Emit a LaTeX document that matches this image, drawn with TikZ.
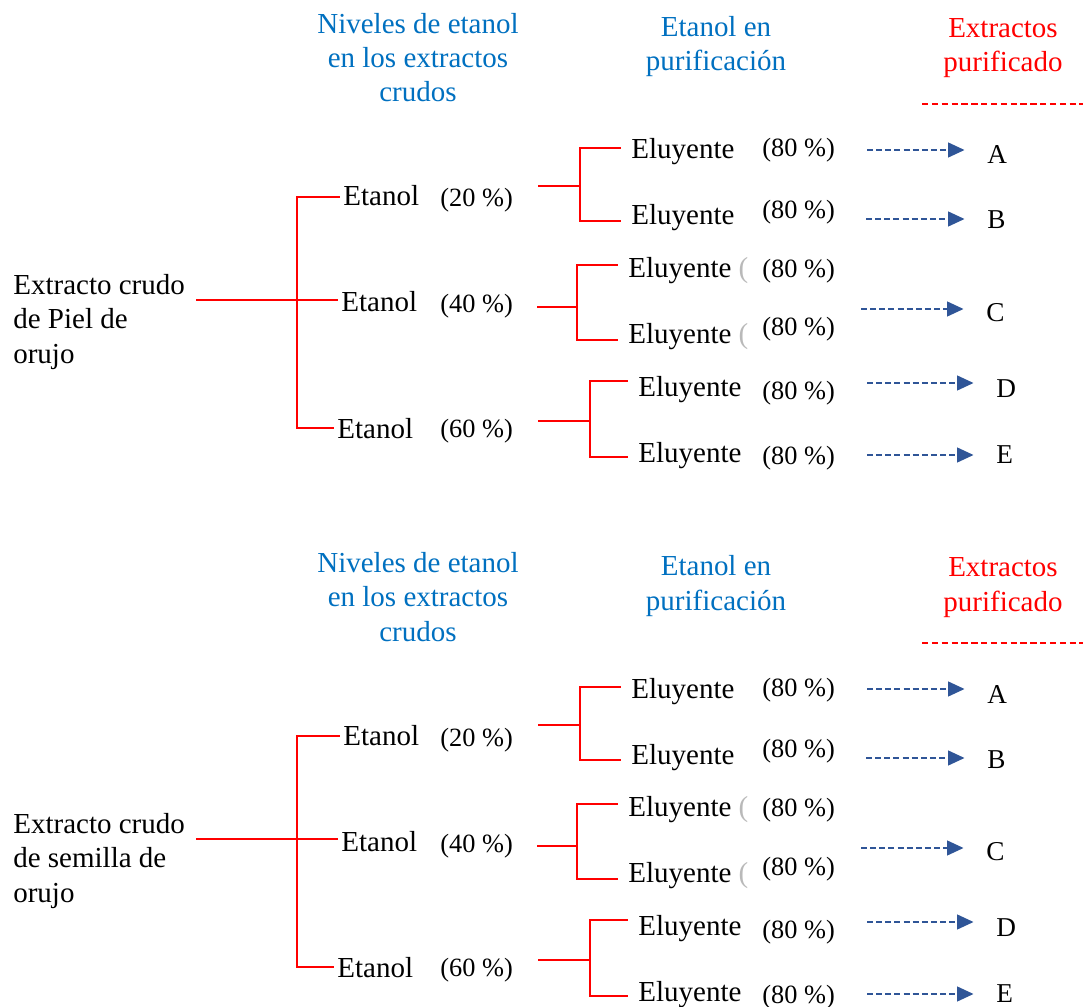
\documentclass[tikz,border=0pt]{standalone}
\usepackage{fontspec}
\setmainfont{Liberation Serif}
\usepackage{tikz}
\usetikzlibrary{arrows.meta}

\definecolor{azulT}{RGB}{0,112,192}
\definecolor{azulF}{RGB}{47,85,151}
\definecolor{rojoT}{RGB}{255,0,0}

\tikzset{
  texto/.style={inner sep=0pt, anchor=base west, align=left,
    font=\fontsize{16.5pt}{19.4pt}\selectfont},
  titulo/.style={texto, anchor=base, align=center},
  etanol/.style={texto, inner xsep=2pt},
  eluyente/.style={texto, inner xsep=6pt},
  pct/.style={texto, font=\fontsize{15pt}{18pt}\selectfont},
  letra/.style={texto, font=\fontsize{15.5pt}{18pt}\selectfont},
  rama/.style={rojoT, line width=1.1pt},
  flecha/.style={azulF, line width=0.8pt, dash pattern=on 3.4pt off 1.8pt,
    -{Triangle[length=0.33cm,width=0.3cm]}, shorten >=0.45cm},
}

\begin{document}
\begin{tikzpicture}[x=0.02cm, y=-0.02cm]
    \useasboundingbox (0,0) rectangle (1083,1007);

    \foreach \g/\dy/\nombre in {1/0/Piel de, 2/539/semilla de} {
    \begin{scope}[shift={(0,\dy)}]
        % Encabezados (anclados en la ultima linea)
        \node[titulo, azulT] (niv\g) at (418,102) {Niveles de etanol\\en los extractos\\crudos};
        \node[titulo, azulT] (pur\g) at (716,71) {Etanol en\\purificación};
        \node[titulo, rojoT] (ext\g) at (1003,72) {Extractos\\purificado};
        \coordinate (lin\g) at (922,104);
        \draw[rojoT, line width=0.9pt, dash pattern=on 3.6pt off 2pt] (lin\g) -- ++(161,0);

        % Extracto crudo
        \node[texto] (raiz\g) at (13,363) {Extracto crudo\\de \nombre\\orujo};

        % Niveles de etanol
        \foreach \i/\x/\y/\v/\yp in {1/339.5/206/20/207, 2/337.5/312/40/313, 3/333.5/438/60/437} {
            \node[etanol] (et\g\i) at (\x,\y) {Etanol};
            \node[pct] (p\g\i) at (440,\yp) {(\v~\%)};
        }

        % Ramas principales
        \coordinate (r\g) at (196,300);
        \coordinate (ta\g) at (297,197);
        \coordinate (tb\g) at (297,428);
        \draw[rama] (ta\g -| et\g1.west) -- (ta\g) -- (tb\g) -- (tb\g -| et\g3.west);
        \draw[rama] (r\g) -- (r\g -| et\g2.west);

        % Eluyentes
        \foreach \i/\xs/\ys/\xv/\ya/\yb/\xe/\ba/\bb/\pa/\pb/\extra in
            {1/538/186/580/148/221/620.5/159/225/157/218/{},
             2/537/307/577/265/340/617.5/277/343/277/336/{ {\color{gray!55}(}},
             3/538/421/590/381/457/627.5/396/462/399/464/{}} {
            \node[eluyente] (ea\g\i) at (\xe,\ba) {Eluyente\extra};
            \node[eluyente] (eb\g\i) at (\xe,\bb) {Eluyente\extra};
            \node[pct] (pa\g\i) at (762,\pa) {(80~\%)};
            \node[pct] (pb\g\i) at (762,\pb) {(80~\%)};
            \coordinate (s\g\i) at (\xs,\ys);
            \coordinate (va\g\i) at (\xv,\ya);
            \coordinate (vb\g\i) at (\xv,\yb);
            \draw[rama] (va\g\i -| ea\g\i.west) -- (va\g\i) -- (vb\g\i) -- (vb\g\i -| eb\g\i.west);
            \draw[rama] (s\g\i) -- (s\g\i -| va\g\i);
        }

        % Extractos purificados
        \foreach \k/\xa/\ya/\xl/\yl in {A/867/150/987/164, B/866/219/987/229,
                                       C/861/309/986/321, D/867/383/996/397, E/867/455/996/463} {
            \node[letra] (\k\g) at (\xl,\yl) {\k};
            \coordinate (f\k\g) at (\xa,\ya);
            \draw[flecha] (f\k\g) -- (f\k\g -| \k\g.west);
        }
    \end{scope}
    }
\end{tikzpicture}
\end{document}
